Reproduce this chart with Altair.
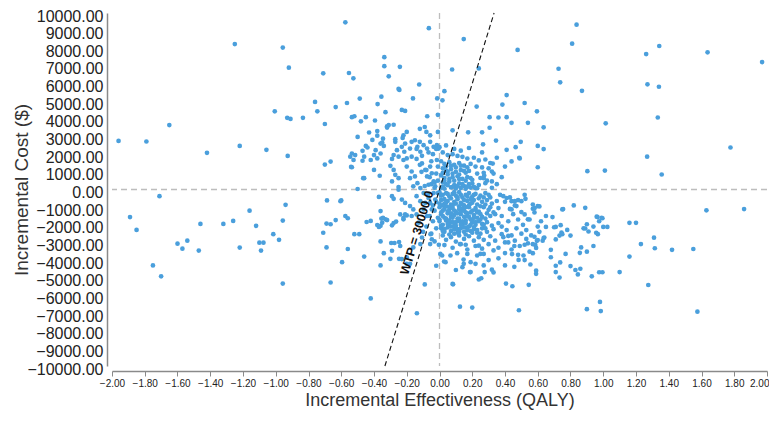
import altair as alt
import pandas as pd

# ---- data: (incremental QALY, incremental cost $) ----
far_left = [
    (-1.96, 2750), (-1.79, 2720), (-1.65, 3650), (-1.71, -380), (-1.42, 2080), (-1.25, 8240),
    (-1.22, 2470), (-1.16, -1200), (-1.89, -1560), (-1.85, -2290), (-1.75, -4300), (-1.70, -4920),
    (-1.60, -3070), (-1.57, -3350), (-1.54, -2900), (-1.47, -3460), (-1.46, -1950), (-1.32, -1950),
    (-1.26, -1780), (-1.22, -3290), (-1.12, -2060), (-1.10, -3010), (-1.09, -3460), (-1.075, -3010),
    (-1.015, -2530), (-0.98, -2850), (-0.957, -1760), (-0.957, -5330), (-0.94, -870),
    (-0.957, 8040), (-0.92, 6900), (-1.006, 4430), (-0.93, 4060), (-0.91, 4000), (-1.057, 2250),
    (-0.927, 1900),
]

mid_left = [
    (-0.575, 9470), (-0.71, 6580), (-0.553, 6600), (-0.526, 6300), (-0.76, 4960), (-0.565, 4900),
    (-0.487, 5150), (-0.746, 4430), (-0.634, 4670), (-0.834, 4060), (-0.70, 3710), (-0.535, 4100),
    (-0.52, 4150), (-0.45, 4100), (-0.48, 3860), (-0.43, 3230), (-0.45, 2470), (-0.44, 2380),
    (-0.535, 2040), (-0.515, 1950), (-0.545, 1860), (-0.47, 2190), (-0.525, 1670), (-0.46, 1860),
    (-0.42, 1670), (-0.47, 1630), (-0.535, 1260), (-0.46, 640), (-0.50, 2980), (-0.70, 1410),
    (-0.665, 1580), (-0.54, 1280), (-0.466, 640), (-0.687, -620), (-0.60, -620), (-0.50, 30),
    (-0.605, -660), (-0.634, -1730), (-0.575, -1500), (-0.56, -1630), (-0.71, -2450), (-0.69, -1930),
    (-0.665, -1970), (-0.69, -3280), (-0.665, -5270), (-0.595, -4120), (-0.56, -3370), (-0.52, -2530),
    (-0.49, -2530), (-0.46, -3800), (-0.445, -1840), (-0.42, -1780), (-0.42, -6170),
]

nw_near = [
    (-0.337, 7500), (-0.337, 6990), (-0.242, 6950), (-0.31, 6410), (-0.124, 5950), (-0.245, 5640),
    (-0.25, 5700), (-0.065, 9140), (-0.355, 5260), (-0.162, 5160), (-0.014, 5160), (-0.378, 4840),
    (-0.394, 3910), (-0.33, 4380), (-0.23, 4510), (-0.21, 4450), (-0.075, 4150), (-0.01, 4230),
    (-0.32, 3580), (-0.28, 3670), (-0.31, 3650), (-0.32, 3510), (-0.38, 3310), (-0.38, 3050),
    (-0.345, 2880), (-0.35, 2660), (-0.41, 2810), (-0.27, 2850), (-0.22, 3070), (-0.20, 3260),
    (-0.225, 2920), (-0.12, 3440), (-0.09, 3540), (-0.08, 3260), (-0.057, 3070), (-0.01, 3260),
    (-0.36, 2600), (-0.34, 2470), (-0.39, 2230), (-0.36, 2040), (-0.38, 1760), (-0.27, 2700),
    (-0.26, 2230), (-0.23, 2420), (-0.21, 2600), (-0.215, 2140), (-0.18, 2320), (-0.17, 2700),
    (-0.15, 2790), (-0.12, 2700), (-0.135, 2420), (-0.097, 2510), (-0.117, 2140), (-0.076, 2320),
    (-0.057, 2700), (-0.067, 2100), (-0.036, 2420), (-0.016, 2510), (-0.006, 2320), (-0.28, 1950),
    (-0.29, 1730), (-0.25, 1860), (-0.20, 1760), (-0.17, 1860), (-0.14, 1730), (-0.107, 1910),
    (-0.40, 1950), (-0.40, 1110), (-0.365, 780), (-0.30, 1340), (-0.28, 1110), (-0.27, 830),
    (-0.25, 640), (-0.29, 460), (-0.25, 140), (-0.22, 1670), (-0.20, 1300), (-0.17, 1020),
    (-0.18, 640), (-0.15, 740), (-0.135, 360), (-0.16, 180), (-0.117, 80), (-0.107, 1480),
    (-0.087, 1110), (-0.076, 740), (-0.057, 1300), (-0.047, 920), (-0.036, 460), (-0.067, 270),
    (-0.026, 180), (-0.016, 1670), (-0.01, 1300), (-0.02, 900), (-0.03, 400), (-0.05, 1600),
    (-0.06, 700), (-0.08, 1100), (-0.09, 200), (-0.04, 2000), (-0.02, 2300), (-0.11, 1000),
    (-0.12, 1400), (-0.14, 2300), (-0.01, 500), (-0.03, 100), (-0.05, 300),
]

ne_sparse = [
    (0.148, 8520), (0.077, 6800), (0.24, 6860), (0.477, 7910), (0.03, 5570), (0.018, 5050),
    (0.227, 4700), (0.306, 4100), (0.36, 4080), (0.41, 4100), (0.384, 4810), (0.41, 5350),
    (0.08, 3350), (0.175, 3240), (0.26, 3240), (0.306, 3500), (0.345, 2770), (0.41, 2250),
    (0.465, 2400), (0.487, 1800), (0.325, 1470), (0.266, 2560), (0.837, 9340), (0.81, 8260),
    (0.727, 6840), (0.737, 6070), (0.87, 5590), (0.52, 4900), (0.595, 4430), (0.44, 3780),
    (0.54, 3780), (0.636, 3520), (1.015, 3750), (0.496, 2700), (0.60, 2470), (0.636, 2290),
    (0.44, 1590), (0.49, 1760), (0.60, 1260), (0.903, 1040), (1.01, 1070), (1.262, 7670),
    (1.342, 8130), (1.637, 7770), (1.97, 7220), (1.27, 5960), (1.34, 5820), (1.333, 4080),
    (1.777, 2380), (1.268, 1860), (1.357, 850), (0.32, 1020), (0.273, 790), (0.28, 360),
    (0.32, 460), (0.27, 640), (0.22, 80),
]

ne_core = [
    (0.02, 2100), (0.05, 1950), (0.08, 2000), (0.11, 1900), (0.14, 1850), (0.17, 1750), (0.21, 1800),
    (0.24, 1650), (0.28, 1700), (0.31, 1500), (0.01, 1600), (0.03, 1450), (0.06, 1550), (0.09, 1400),
    (0.12, 1500), (0.15, 1350), (0.19, 1450), (0.22, 1300), (0.26, 1250), (0.30, 1200), (0.02, 1200),
    (0.04, 1050), (0.07, 1150), (0.10, 1000), (0.13, 1100), (0.16, 950), (0.18, 1050), (0.23, 900),
    (0.27, 950), (0.33, 900), (0.01, 800), (0.03, 650), (0.05, 850), (0.08, 700), (0.11, 750),
    (0.14, 600), (0.17, 700), (0.20, 550), (0.25, 650), (0.29, 500), (0.02, 400), (0.04, 300),
    (0.06, 450), (0.09, 250), (0.12, 350), (0.15, 200), (0.18, 300), (0.21, 150), (0.24, 250),
    (0.35, 300), (0.01, 100), (0.03, 50), (0.07, 120), (0.10, 60), (0.13, 90), (0.16, 40),
    (0.19, 110), (0.23, 70), (0.00, 2400), (0.04, 2500), (0.09, 2300), (0.13, 2200), (0.18, 2350),
    (0.26, 2100), (0.35, 1800), (0.40, 1300), (0.38, 700), (0.32, 100), (0.02, 150), (0.05, 250),
    (0.08, 150), (0.11, 200), (0.14, 300), (0.17, 150), (0.20, 350), (0.03, 500), (0.06, 600),
    (0.09, 500), (0.12, 600), (0.16, 500), (0.19, 650), (0.02, 950), (0.05, 1000), (0.08, 900),
    (0.12, 850), (0.15, 1050), (0.04, 1300), (0.07, 1350), (0.10, 1250), (0.13, 1350), (0.17, 1250),
]

sw_near = [
    (-0.36, -1220), (-0.35, -1880), (-0.36, -2060), (-0.33, -1690), (-0.29, -380), (-0.28, -530),
    (-0.25, -10), (-0.23, -570), (-0.21, -760), (-0.18, -940), (-0.16, -1130), (-0.24, -1410),
    (-0.22, -1690), (-0.20, -1470), (-0.17, -1500), (-0.14, -380), (-0.117, -660), (-0.097, -200),
    (-0.14, -1410), (-0.127, -1880), (-0.097, -1130), (-0.087, -760), (-0.067, -480), (-0.057, -760),
    (-0.036, -200), (-0.026, -570), (-0.047, -1130), (-0.076, -1500), (-0.37, -420), (-0.38, -2010),
    (-0.37, -2120), (-0.355, -1650), (-0.345, -1600), (-0.32, -1730), (-0.36, -2940), (-0.34, -3610),
    (-0.36, -4300), (-0.295, -3030), (-0.275, -3030), (-0.247, -2980), (-0.29, -2030), (-0.28, -1900),
    (-0.265, -1820), (-0.30, -3930), (-0.247, -3930), (-0.22, -1600), (-0.21, -1410), (-0.20, -3840),
    (-0.20, -4210), (-0.138, -7010), (-0.16, -3280), (-0.09, -5380), (-0.055, -2530), (-0.03, -2940),
    (-0.02, -4320), (-0.24, -3200), (-0.29, -3470), (-0.23, -3940), (-0.18, -4210), (-0.117, -3090),
    (-0.107, -2720), (-0.057, -3090), (-0.047, -2820), (-0.004, -3130), (-0.01, -200), (-0.02, -700),
    (-0.03, -1200), (-0.01, -1600), (-0.04, -1800), (-0.02, -2200), (-0.05, -2500), (-0.06, -1500),
    (-0.08, -2100), (-0.10, -2400), (-0.07, -300), (-0.04, -900),
]

se_sparse = [
    (0.005, -3650), (0.028, -4080), (0.08, -5350), (0.125, -6640), (0.20, -6690), (0.10, -4560),
    (0.14, -4400), (0.147, -3970), (0.186, -4680), (0.24, -5100), (0.255, -5030), (0.276, -4680),
    (0.32, -4540), (0.25, -3650), (0.27, -3650), (0.406, -5330), (0.445, -5480), (0.485, -6840),
    (0.016, -3740), (0.037, -4120), (0.067, -3740), (0.108, -3610), (0.083, -5370), (0.125, -3090),
    (0.16, -3130), (0.17, -3650), (0.148, -4210), (0.19, -4120), (0.22, -4210), (0.19, -4680),
    (0.23, -3740), (0.24, -3180), (0.457, -4380), (0.59, -4600), (0.59, -4780), (0.555, -4250),
    (0.545, -5400), (0.443, -3660), (0.457, -3200), (0.483, -3990), (0.513, -3740), (0.52, -3130),
    (0.54, -3050), (0.57, -3610), (0.585, -3140), (0.595, -2910), (0.55, -3520), (0.38, -2530),
    (0.42, -2630), (0.40, -3000), (0.64, -2720), (0.39, -380), (0.41, -480), (0.44, -660),
    (0.46, -660), (0.50, -660), (0.525, -530), (0.47, -940), (0.44, -1130), (0.50, -1280),
    (0.52, -1410), (0.54, -1690), (0.57, -850), (0.60, -940), (0.57, -1090), (0.69, -1560),
    (0.75, -1130), (0.82, -900), (0.89, -1040), (0.65, -2120), (0.71, -2120), (0.74, -2020),
    (0.78, -2290), (0.745, -2440), (0.89, -2210), (0.90, -1970), (0.94, -2100), (0.965, -1560),
    (0.995, -1630), (0.975, -1800), (1.0, -2120), (1.025, -2120), (1.63, -1180), (1.86, -1110),
    (0.61, -960), (0.58, -1060), (0.755, -1110), (0.70, -2140), (0.75, -2530), (0.733, -2610),
    (0.80, -2610), (0.71, -2830), (0.636, -2750), (0.60, -2860), (0.58, -2680), (0.59, -3310),
    (0.68, -3420), (0.68, -3840), (0.77, -3650), (0.737, -4130), (0.71, -4320), (0.71, -4680),
    (0.733, -4990), (0.80, -4340), (0.83, -4560), (0.86, -4490), (0.845, -4810), (0.93, -4920),
    (0.975, -4690), (0.995, -4690), (1.10, -4680), (1.275, -5410), (0.90, -6780), (0.98, -6370),
    (0.985, -6890), (1.575, -6920), (0.865, -3280), (0.857, -3590), (0.90, -3520), (0.94, -3200),
    (0.88, -2200), (0.91, -2380), (0.957, -2450), (0.967, -2530), (0.96, -1540), (0.99, -1610),
    (1.16, -1890), (1.20, -1890), (1.23, -3090), (1.31, -2730), (1.315, -3330), (1.16, -3800),
    (1.42, -3420), (1.55, -3370), (0.43, -450), (0.48, -600), (0.52, -300),
]

se_spread = [
    (0.37, -300), (0.40, -700), (0.43, -1100), (0.46, -900), (0.38, -1500), (0.42, -1800),
    (0.45, -1400), (0.48, -1700), (0.51, -2000), (0.38, -2100), (0.41, -2300), (0.44, -2600),
    (0.47, -2200), (0.50, -2500), (0.53, -2300), (0.56, -2600), (0.39, -2700), (0.42, -3000),
    (0.46, -2900), (0.49, -3200), (0.53, -2800), (0.57, -3100), (0.61, -2400), (0.63, -2900),
    (0.36, -3300), (0.40, -3600), (0.44, -3400), (0.48, -3700), (0.52, -4000), (0.36, -3900),
    (0.40, -4300), (0.30, -4000), (0.27, -4300), (0.33, -4700), (0.55, -1700), (0.58, -1300),
    (0.62, -1800), (0.65, -1500), (0.60, -2100),
]

se_core = [
    (0.00, -150), (0.02, -300), (0.04, -200), (0.06, -400), (0.08, -250), (0.10, -350), (0.12, -150),
    (0.14, -450), (0.16, -300), (0.18, -200), (0.20, -400), (0.22, -250), (0.25, -350), (0.28, -200),
    (0.31, -450), (0.01, -600), (0.03, -800), (0.05, -650), (0.07, -850), (0.09, -700), (0.11, -550),
    (0.13, -750), (0.15, -900), (0.17, -650), (0.19, -800), (0.21, -600), (0.23, -850), (0.26, -700),
    (0.29, -600), (0.32, -800), (0.35, -650), (0.00, -1000), (0.02, -1200), (0.04, -950), (0.06, -1150),
    (0.08, -1050), (0.10, -1250), (0.12, -950), (0.14, -1100), (0.16, -1300), (0.18, -1000), (0.20, -1200),
    (0.22, -1050), (0.24, -1250), (0.27, -1000), (0.30, -1150), (0.33, -1300), (0.36, -1050), (0.01, -1400),
    (0.03, -1600), (0.05, -1350), (0.07, -1550), (0.09, -1450), (0.11, -1650), (0.13, -1400), (0.15, -1550),
    (0.17, -1350), (0.19, -1700), (0.21, -1450), (0.23, -1600), (0.25, -1400), (0.28, -1650), (0.31, -1500),
    (0.34, -1400), (0.00, -1800), (0.02, -2000), (0.04, -1750), (0.06, -1950), (0.08, -1850), (0.10, -2050),
    (0.12, -1800), (0.14, -1950), (0.16, -1750), (0.18, -2100), (0.20, -1850), (0.22, -2000), (0.24, -1800),
    (0.26, -1950), (0.29, -1850), (0.32, -2050), (0.36, -1900), (0.01, -2200), (0.03, -2400), (0.05, -2150),
    (0.07, -2350), (0.09, -2250), (0.11, -2450), (0.13, -2200), (0.15, -2400), (0.17, -2150), (0.19, -2350),
    (0.21, -2250), (0.23, -2450), (0.26, -2200), (0.29, -2400), (0.33, -2250), (0.02, -2600), (0.04, -2850),
    (0.07, -2700), (0.10, -2950), (0.12, -2600), (0.15, -2800), (0.18, -2650), (0.21, -2900), (0.24, -2700),
    (0.27, -2850), (0.31, -2650), (0.34, -2900), (0.03, -3150), (0.08, -3300), (0.13, -3100), (0.17, -3400),
    (0.22, -3200), (0.26, -3350), (0.30, -3100), (0.33, -3450),
    (0.01, -350), (0.03, -550), (0.05, -250), (0.07, -500), (0.09, -150), (0.11, -450), (0.13, -300),
    (0.15, -600), (0.17, -400), (0.19, -550), (0.21, -300), (0.24, -500), (0.27, -450), (0.30, -300),
    (0.00, -800), (0.02, -900), (0.04, -750), (0.06, -1000), (0.08, -900), (0.10, -800), (0.12, -1100),
    (0.14, -850), (0.16, -1000), (0.18, -900), (0.20, -750), (0.22, -1150), (0.25, -950), (0.28, -850),
    (0.31, -1000), (0.01, -1300), (0.03, -1100), (0.05, -1250), (0.07, -1350), (0.09, -1200), (0.11, -1350),
    (0.13, -1250), (0.15, -1200), (0.17, -1500), (0.19, -1300), (0.21, -1600), (0.23, -1300), (0.26, -1550),
    (0.29, -1350), (0.00, -1700), (0.02, -1500), (0.04, -1650), (0.06, -1750), (0.08, -1600), (0.10, -1850),
    (0.12, -1650), (0.14, -1800), (0.16, -1900), (0.18, -1550), (0.20, -1700), (0.22, -1850), (0.25, -1700),
    (0.27, -2000), (0.01, -2050), (0.03, -2250), (0.05, -1950), (0.07, -2100), (0.09, -2050), (0.11, -2250),
    (0.13, -2000), (0.15, -2150), (0.17, -2300), (0.19, -2000), (0.21, -2150), (0.23, -2300), (0.28, -2200),
    (0.02, -2350), (0.06, -2550), (0.09, -2500), (0.12, -2400), (0.16, -2550), (0.20, -2450), (0.25, -2500),
]

x_ticks = [-2.0, -1.8, -1.6, -1.4, -1.2, -1.0, -0.8, -0.6, -0.4, -0.2, 0.0,
           0.2, 0.4, 0.6, 0.8, 1.0, 1.2, 1.4, 1.6, 1.8, 2.0]
y_ticks = [-10000, -9000, -8000, -7000, -6000, -5000, -4000, -3000, -2000, -1000, 0,
           1000, 2000, 3000, 4000, 5000, 6000, 7000, 8000, 9000, 10000]

wtp_qaly = [-10000 / 30000, 10000 / 30000]
wtp_cost = [-10000, 10000]
label_qaly = [-0.138]
label_cost = [-2450]
label_text = ["WTP = 30000.0"]

# ---- build ----
FONT = "Liberation Sans"
points = far_left + mid_left + nw_near + ne_sparse + ne_core + sw_near + se_sparse + se_spread + se_core
df = pd.DataFrame(points, columns=["qaly", "cost"])

xs = alt.Scale(domain=[-2, 2], nice=False, zero=False)
ys = alt.Scale(domain=[-10000, 10000], nice=False, zero=False)

x_axis = alt.Axis(values=x_ticks, format=".2f", offset=5, grid=False,
                  domainColor="#8a8a8a", domainWidth=1.5, tickColor="#8a8a8a", tickWidth=1,
                  tickSize=5, labelFont=FONT, labelFontSize=10, labelColor="#222222",
                  labelPadding=2, labelOverlap=False, labelBound=False, labelFlush=False,
                  labelAlign=alt.expr("datum.value >= 1.99 ? 'right' : 'center'"),
                  labelOffset=alt.expr("datum.value >= 1.99 ? 2 : 0"),
                  title="Incremental Effectiveness (QALY)", titleFont=FONT, titleFontSize=18,
                  titleFontWeight="normal", titleColor="#333333", titleY=20, titleBaseline="top")
y_axis = alt.Axis(values=y_ticks, format=".2f", offset=5, grid=False,
                  domainColor="#8a8a8a", domainWidth=1.5, ticks=False, tickSize=0,
                  labelFont=FONT, labelFontSize=16, labelColor="#222222", labelPadding=4,
                  labelOffset=3, labelOverlap=False, labelBound=False, labelFlush=False,
                  title="Incremental Cost ($)", titleFont=FONT, titleFontSize=19,
                  titleFontWeight="normal", titleColor="#333333", titleX=-76, titleY=176.5,
                  titleAngle=270, titleBaseline="bottom", titleAlign="center")

X = lambda: alt.X("qaly:Q", scale=xs, axis=x_axis)
Y = lambda: alt.Y("cost:Q", scale=ys, axis=y_axis)

zero_h = alt.Chart(pd.DataFrame({"cost": [0]})).mark_rule(
    color="#bdbdbd", strokeDash=[6, 4], strokeWidth=1.3
).encode(y=Y())
zero_v = alt.Chart(pd.DataFrame({"qaly": [0]})).mark_rule(
    color="#bdbdbd", strokeDash=[6, 4], strokeWidth=1.3
).encode(x=X())

scatter = alt.Chart(df).mark_circle(size=22, color="#4a9fdc", opacity=1).encode(x=X(), y=Y())

wtp_line = alt.Chart(pd.DataFrame({"qaly": wtp_qaly, "cost": wtp_cost})).mark_line(
    color="#111111", strokeDash=[5, 3], strokeWidth=1.1
).encode(x=X(), y=Y())

wtp_label = alt.Chart(pd.DataFrame({"qaly": label_qaly, "cost": label_cost, "t": label_text})).mark_text(
    angle=287, font=FONT, fontSize=12.5, fontWeight="bold", color="#111111",
    align="center", baseline="middle"
).encode(x=X(), y=Y(), text="t:N")

chart = alt.layer(zero_h, zero_v, scatter, wtp_line, wtp_label).properties(
    width=655, height=353,
    autosize=alt.AutoSizeParams(type="none"),
    padding={"left": 104, "top": 5, "right": 2, "bottom": 47},
).configure_view(stroke=None)

chart.save("out.html", embed_options={"renderer": "svg", "actions": False})
